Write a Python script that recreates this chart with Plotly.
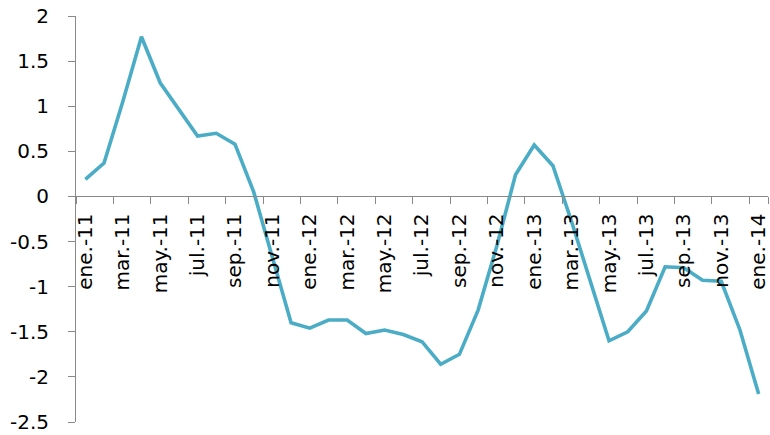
import plotly.graph_objects as go

months = ["ene.", "feb.", "mar.", "abr.", "may.", "jun.", "jul.", "ago.", "sep.", "oct.", "nov.", "dic."]
categories = [f"{m}-{y}" for y in ["11", "12", "13"] for m in months] + ["ene.-14"]

values = [0.19, 0.37, 1.05, 1.77, 1.26, 0.96, 0.67, 0.70, 0.58, 0.05,
          -0.68, -1.40, -1.46, -1.37, -1.37, -1.52, -1.48, -1.53, -1.61, -1.86,
          -1.75, -1.26, -0.55, 0.24, 0.57, 0.34, -0.28, -0.95, -1.60, -1.50,
          -1.27, -0.78, -0.79, -0.93, -0.94, -1.48, -2.19]

y_ticks = [-2.5, -2, -1.5, -1, -0.5, 0, 0.5, 1, 1.5, 2]
y_ticktext = ["-2.5", "-2", "-1.5", "-1", "-0.5", "0", "0.5", "1", "1.5", "2"]
x_tickvals = categories[::2]

font_family = "DejaVu Sans"
fsize = 20

fig = go.Figure()
fig.add_trace(go.Scatter(
    x=categories, y=values, mode="lines",
    line=dict(color="#4BACC6", width=3.6),
    hoverinfo="skip",
))

fig.update_layout(
    width=770, height=435,
    margin=dict(l=76, r=0, t=16, b=13),
    paper_bgcolor="white", plot_bgcolor="white",
    showlegend=False,
    font=dict(family=font_family, size=fsize, color="#000000"),
    xaxis=dict(
        type="category",
        categoryorder="array", categoryarray=categories,
        range=[-0.5, 36.5],
        tickvals=x_tickvals,
        tickson="boundaries",
        tickangle=-90,
        ticks="outside", ticklen=7, tickcolor="#898989", tickwidth=1,
        showline=True, linecolor="#898989", linewidth=1,
        showgrid=False, zeroline=False,
        anchor="free", position=2.5 / 4.5,
        ticklabelstandoff=8,
        tickfont=dict(family=font_family, size=fsize, color="#000000"),
    ),
    yaxis=dict(
        range=[-2.5, 2],
        tickvals=y_ticks, ticktext=y_ticktext,
        ticks="outside", ticklen=7, tickcolor="#898989", tickwidth=1,
        showline=True, linecolor="#898989", linewidth=1,
        showgrid=False, zeroline=False,
        ticklabelstandoff=15,
        tickfont=dict(family=font_family, size=fsize, color="#000000"),
    ),
)

fig.write_html("out.html")
